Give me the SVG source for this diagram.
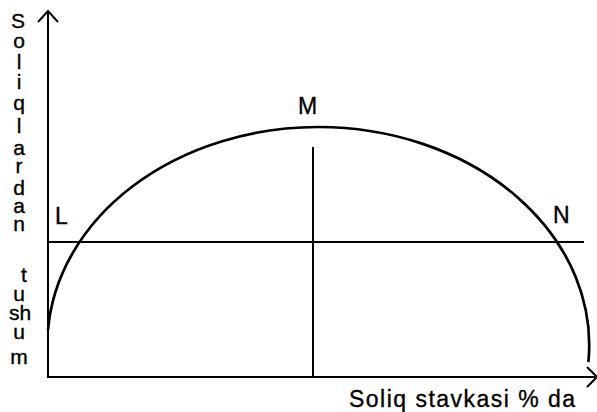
<svg xmlns="http://www.w3.org/2000/svg" width="597" height="412" viewBox="0 0 597 412">
<style>
.ln{stroke:#000;stroke-width:2;fill:none}
.cv{stroke:#000;stroke-width:2.7;fill:none}
.t{font-family:"Liberation Sans",Arial,sans-serif;fill:#000;stroke:#000;stroke-width:0.35}
.v{font-size:21px;text-anchor:middle}
.lab{font-size:23px}
</style>
<rect width="597" height="412" fill="#fff"/>
<g id="connectors">
<path class="ln" d="M48 12 V377 H595"/>
<path class="ln" d="M38 22 L48 11 L58 22"/>
<path class="ln" d="M587 367 L597 377 L587 387"/>
<path class="ln" d="M48 242 H584"/>
<path class="ln" d="M313 147 V377"/>
</g>
<g id="curve">
<path class="cv" d="M48 330 A271 218 0 0 1 318 127 A271 218 0 0 1 588.4 362"/>
</g>
<g id="label-M"><text class="t lab" x="298" y="114">M</text></g>
<g id="label-L"><text class="t lab" x="55" y="224">L</text></g>
<g id="label-N"><text class="t lab" x="553" y="223">N</text></g>
<g id="y-axis-label" class="t v">
<text x="18" y="28">S</text>
<text x="19" y="48">o</text>
<text x="19" y="69">l</text>
<text x="19" y="89">i</text>
<text x="19" y="110">q</text>
<text x="19" y="133">l</text>
<text x="19" y="155">a</text>
<text x="19" y="173">r</text>
<text x="19" y="195">d</text>
<text x="19" y="213">a</text>
<text x="19" y="231">n</text>
<text x="24" y="282">t</text>
<text x="19" y="301">u</text>
<text x="20" y="320">sh</text>
<text x="19" y="339">u</text>
<text x="19" y="364">m</text>
</g>
<g id="x-axis-label"><text class="t lab" x="349" y="407" textLength="226" lengthAdjust="spacing">Soliq stavkasi % da</text></g>
</svg>
